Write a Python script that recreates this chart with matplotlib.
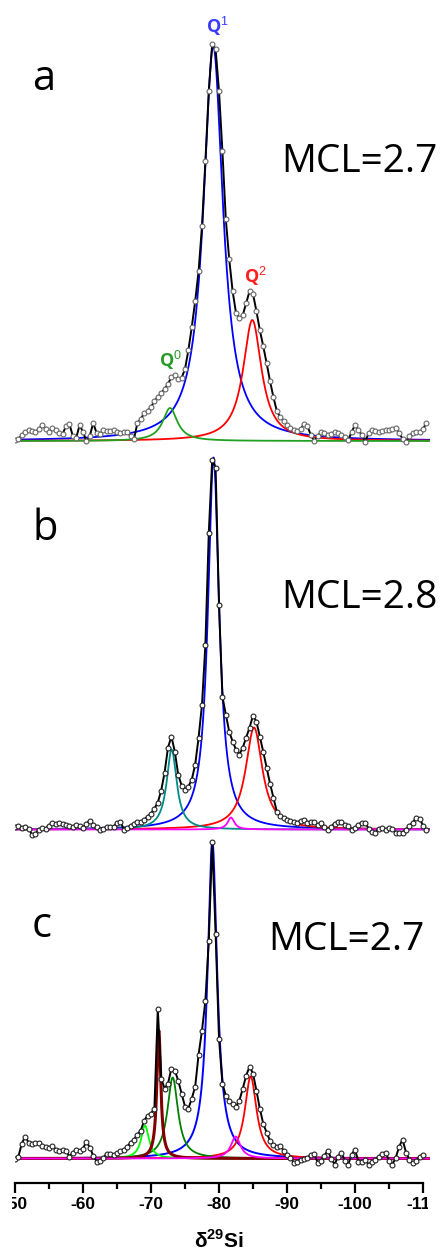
import numpy as np
import matplotlib
matplotlib.use('Agg')
import matplotlib.pyplot as plt
from matplotlib.transforms import Bbox, TransformedBbox

plt.rcParams['mathtext.fontset'] = 'custom'
plt.rcParams['mathtext.rm'] = 'Liberation Sans'
plt.rcParams['mathtext.bf'] = 'Liberation Sans:bold'

W, H = 447, 1251

# experimental spectra, heights above baseline (reference pixels), every 0.5 ppm from -50
spec_a = [1, 2, 6, 9, 11, 10, 9, 12, 16, 12,
          9, 13, 11, 8, 7, 15, 17, 5, 3, 16,
          9, 0, 5, 18, 8, 7, 11, 10, 10, 11,
          9, 8, 9, 9, 5, 2, 18, 22, 28, 30,
          34, 40, 44, 48, 52, 57, 64, 66, 62, 63,
          72, 91, 114, 140, 170, 215, 280, 350, 397, 392,
          350, 290, 222, 182, 150, 128, 123, 126, 138, 150,
          147, 130, 111, 95, 78, 60, 44, 30, 24, 20,
          16, 13, 11, 10, 12, 17, 15, 6, 0, 5,
          9, 8, 6, 7, 9, 8, 6, 4, 1, 9,
          16, 11, 6, -1, 8, 11, 10, 9, 10, 11,
          11, 12, 13, 8, 2, -1, 5, 8, 9, 9,
          12, 18]
spec_b = [3, 4, 2, 3, 1, -5, -4, 0, 2, 1,
          4, 7, 6, 7, 6, 5, 4, 3, 5, 4,
          2, 6, 9, 5, 3, 0, 1, 3, 3, 3,
          7, 8, 0, 2, 4, 6, 8, 8, 10, 13,
          16, 21, 27, 39, 57, 82, 93, 78, 55, 44,
          40, 43, 50, 65, 92, 125, 185, 297, 370, 362,
          225, 133, 115, 98, 88, 80, 75, 82, 92, 102,
          114, 108, 93, 78, 62, 46, 32, 18, 14, 12,
          10, 9, 8, 7, 9, 10, 7, 8, 8, 5,
          7, 3, 0, 3, 6, 8, 8, 5, 4, 0,
          2, 5, 7, 7, 1, -2, -3, 1, 2, 0,
          2, 1, -3, -3, -3, 0, 4, 7, 12, 11,
          4, 0]
spec_c = [0, 2, 15, 22, 16, 15, 16, 16, 13, 12,
          11, 13, 9, 8, 9, 8, 2, 6, 9, 8,
          10, 17, 11, 3, -3, -2, 1, 5, 5, 4,
          6, 8, 9, 12, 16, 19, 24, 28, 38, 43,
          45, 50, 150, 80, 70, 75, 90, 88, 78, 65,
          52, 50, 60, 72, 104, 128, 158, 218, 317, 225,
          120, 75, 63, 58, 55, 52, 58, 70, 83, 92,
          85, 68, 50, 35, 26, 18, 14, 12, 13, 8,
          4, 1, -4, -3, -1, 0, 1, 4, 5, -4,
          -2, 3, 8, 0, -6, 2, 6, -2, -6, 4,
          9, -3, -3, -1, -6, -3, -1, 2, 5, 6,
          -2, -6, 1, 12, 19, 6, -1, -4, -2, 2,
          4]

# fitted Lorentzian components: centre (ppm), height, FWHM (ppm), colour, width
fit_a = [(-79.15, 395, 3.5, '#0000ff', 1.3),
         (-84.9, 121, 3.3, '#ff0000', 1.3),
         (-72.8, 33, 2.6, '#22a022', 1.3)]
fit_b = [(-79.2, 372, 2.0, '#0000ff', 1.3),
         (-85.15, 102, 3.0, '#ff0000', 1.3),
         (-73.04, 80, 1.8, '#008b8b', 1.3),
         (-81.76, 12, 1.2, '#ff00ff', 1.3)]
fit_c = [(-79.02, 317, 1.7, '#0000ff', 1.4),
         (-84.66, 82, 2.1, '#ff0000', 1.3),
         (-73.19, 81, 1.9, '#008000', 1.3),
         (-69.12, 33, 1.4, '#00ff00', 1.3),
         (-71.15, 128, 0.7, '#800000', 2.2),
         (-82.45, 22, 1.7, '#ff00ff', 1.3)]

xticks = [-50, -60, -70, -80, -90, -100, -110]
xticklabels = ['-50', '-60', '-70', '-80', '-90', '-100', '-110']

fig = plt.figure(figsize=(W / 100, H / 100), dpi=100)


def px_axes(top, bottom):
    return fig.add_axes([15 / W, 1 - bottom / H, (429.8 - 15) / W, (bottom - top) / H])


def draw_panel(ax, spec, fits, base, top, bottom, mec):
    xf = np.linspace(-50, -111, 2000)
    for x0, amp, fw, col, lw in fits:
        ax.plot(xf, amp / (1 + ((xf - x0) / (fw / 2)) ** 2), color=col, lw=lw, zorder=2)
    xs = -50 - 0.5 * np.arange(len(spec))
    ax.plot(xs, spec, color='black', lw=1.4, zorder=3)
    ax.plot(xs, spec, 'o', ms=3.5, mfc='white', mec=mec, mew=0.8, zorder=4)
    ax.set_xlim(-50, -111)
    ax.set_ylim(-(bottom - base), base - top)
    ax.set_facecolor('none')
    for s in ax.spines.values():
        s.set_visible(False)
    ax.set_yticks([])


ax_a = px_axes(5, 448)
draw_panel(ax_a, spec_a, fit_a, 441, 5, 448, '#666666')
ax_a.set_xticks([])

ax_b = px_axes(445, 838)
draw_panel(ax_b, spec_b, fit_b, 829.5, 445, 838, '#222222')
ax_b.set_xticks([])

ax_c = px_axes(835, 1183)
draw_panel(ax_c, spec_c, fit_c, 1158.5, 835, 1183, '#222222')
ax_c.spines['bottom'].set_visible(True)
ax_c.spines['bottom'].set_linewidth(1.6)
ax_c.spines['bottom'].set_bounds(-50, -110)
ax_c.set_xticks(xticks)
ax_c.set_xticklabels(xticklabels, fontfamily='Liberation Sans', fontweight='bold', fontsize=12.5)
ax_c.set_xticks([-55, -65, -75, -85, -95, -105], minor=True)
ax_c.tick_params(axis='x', which='major', length=7, width=1.6, pad=3)
ax_c.tick_params(axis='x', which='minor', length=4, width=1.6)

# the original picture is cut at both sides of the tick labels
clip = TransformedBbox(Bbox([[12 / W, 0], [428 / W, 1]]), fig.transFigure)
for lbl in ax_c.get_xticklabels():
    lbl.set_clip_box(clip)
    lbl.set_clip_on(True)


def ftext(x, y, s, **kw):
    fig.text(x / W, 1 - y / H, s, **kw)


for lab, yb in [('a', 90), ('b', 540), ('c', 937)]:
    ftext(32, yb, lab, fontfamily='Open Sans', fontsize=30, va='baseline', ha='left')
for lab, x, yb in [('MCL=2.7', 281, 172), ('MCL=2.8', 281, 608), ('MCL=2.7', 268, 950)]:
    ftext(x, yb, lab, fontfamily='Open Sans', fontsize=28, va='baseline', ha='left')

ftext(217, 33, 'Q$^{1}$', fontfamily='Open Sans', fontweight='bold', fontsize=13,
      color='#3c3cff', ha='center', va='baseline')
ftext(255, 283, 'Q$^{2}$', fontfamily='Open Sans', fontweight='bold', fontsize=13,
      color='#ff2020', ha='center', va='baseline')
ftext(171, 367, 'Q$^{0}$', fontfamily='Open Sans', fontweight='bold', fontsize=13,
      color='#2a9a2a', ha='center', va='baseline')

ftext(219, 1248, 'δ$^{\\mathbf{29}}$Si', fontfamily='Liberation Sans', fontweight='bold',
      fontsize=15, ha='center', va='baseline')

fig.savefig('out.png', dpi=100)
